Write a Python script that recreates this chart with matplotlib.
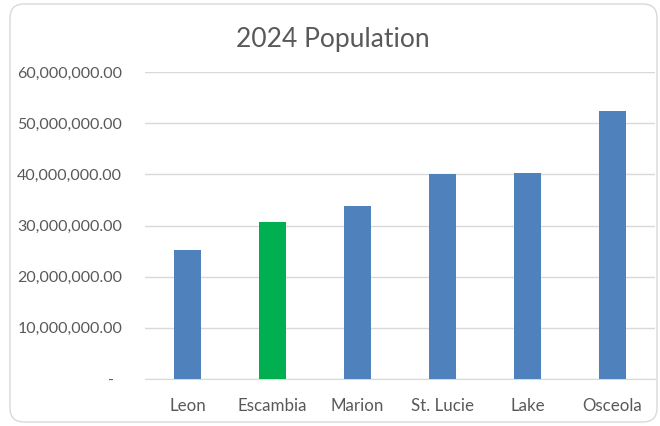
import matplotlib
import matplotlib.pyplot as plt
from matplotlib.patches import FancyBboxPatch
from matplotlib.ticker import FuncFormatter

matplotlib.use("Agg")

counties = ["Leon", "Escambia", "Marion", "St. Lucie", "Lake", "Osceola"]
population = [25_300_000, 30_700_000, 33_800_000, 40_000_000, 40_200_000, 52_400_000]
bar_colors = ["#4F81BD", "#00B050", "#4F81BD", "#4F81BD", "#4F81BD", "#4F81BD"]
y_ticks = [0, 10_000_000, 20_000_000, 30_000_000, 40_000_000, 50_000_000, 60_000_000]

plt.rcParams["font.family"] = ["Lato", "DejaVu Sans"]
text_color = "#595959"

fig = plt.figure(figsize=(6.6, 4.26), dpi=100)

# chart border (rounded, in pixel coordinates)
border = FancyBboxPatch((10, 4), 647, 418, boxstyle="round,pad=0,rounding_size=14",
                        transform=None, facecolor="none", edgecolor="#D9D9D9",
                        linewidth=1.0, zorder=5)
fig.patches.append(border)

ax = fig.add_axes([145 / 660, 1 - 379 / 426, 510 / 660, (379 - 72) / 426])
ax.set_facecolor("none")

ax.bar(range(len(counties)), population, width=0.31, color=bar_colors, zorder=3)

ax.set_xlim(-0.5, len(counties) - 0.5)
ax.set_ylim(0, 60_000_000)
ax.set_yticks(y_ticks)


def fmt(v, pos):
    if v == 0:
        return "-  "
    return f"{v:,.2f}"


ax.yaxis.set_major_formatter(FuncFormatter(fmt))
ax.set_xticks(range(len(counties)))
ax.set_xticklabels(counties)

ax.grid(axis="y", color="#D9D9D9", linewidth=1.0, zorder=0)
for side in ["top", "right", "left"]:
    ax.spines[side].set_visible(False)
ax.spines["bottom"].set_color("#D9D9D9")
ax.tick_params(axis="both", length=0, colors=text_color)
ax.tick_params(axis="y", pad=16.5, labelsize=11.5)
ax.tick_params(axis="x", pad=14, labelsize=12.2)

fig.text(0.504, 1 - 47 / 426, "2024 Population", ha="center", va="baseline",
         fontsize=19, color=text_color)

fig.savefig("out.png", dpi=100)
